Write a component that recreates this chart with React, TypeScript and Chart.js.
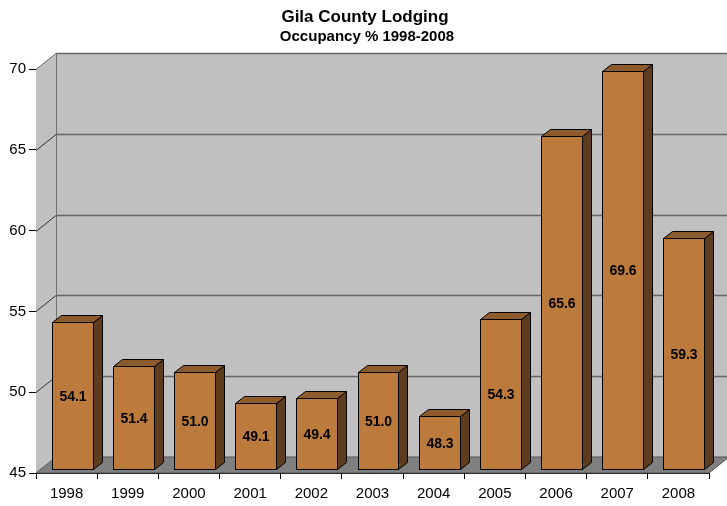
import React, { useEffect, useRef } from "react";
import { Chart, registerables } from "chart.js";

Chart.register(...registerables);

const categories = ["1998", "1999", "2000", "2001", "2002", "2003", "2004", "2005", "2006", "2007", "2008"];
const occupancy = [54.1, 51.4, 51.0, 49.1, 49.4, 51.0, 48.3, 54.3, 65.6, 69.6, 59.3];
const titleText = "Gila County Lodging";
const subtitleText = "Occupancy % 1998-2008";
const yMin = 45;
const yMax = 70;
const yStep = 5;

const FONT = "'Liberation Sans', Arial, Helvetica, sans-serif";
const DEPTH_X = 20;
const DEPTH_Y = -16;
const FRONT_OFF_X = 5.5;
const FRONT_OFF_Y = -4;
const BAR_DX = 9;
const BAR_DY = -7;

const wallPlugin = {
  id: "wall3d",
  beforeDatasetsDraw(chart: any) {
    const { ctx, chartArea } = chart;
    const { left: L, right: R, top: T, bottom: B } = chartArea;
    const ys = chart.scales.y;
    ctx.save();
    ctx.fillStyle = "#c0c0c0";
    ctx.fillRect(L + DEPTH_X, T + DEPTH_Y, R - L, B - T);
    ctx.beginPath();
    ctx.moveTo(L, T);
    ctx.lineTo(L + DEPTH_X, T + DEPTH_Y);
    ctx.lineTo(L + DEPTH_X, B + DEPTH_Y);
    ctx.lineTo(L, B);
    ctx.closePath();
    ctx.fill();
    ctx.fillStyle = "#808080";
    ctx.beginPath();
    ctx.moveTo(L, B);
    ctx.lineTo(L + DEPTH_X, B + DEPTH_Y);
    ctx.lineTo(R + DEPTH_X, B + DEPTH_Y);
    ctx.lineTo(R, B);
    ctx.closePath();
    ctx.fill();
    ctx.strokeStyle = "#555555";
    ctx.lineWidth = 1;
    ctx.stroke();
    ctx.strokeStyle = "#707070";
    ctx.beginPath();
    ctx.moveTo(L + DEPTH_X + 0.5, T + DEPTH_Y);
    ctx.lineTo(L + DEPTH_X + 0.5, B + DEPTH_Y);
    ctx.stroke();
    for (let v = yMin + yStep; v <= yMax; v += yStep) {
      const y = Math.round(ys.getPixelForValue(v)) + 0.5;
      ctx.strokeStyle = v === yMax ? "#707070" : "#333333";
      ctx.lineWidth = 1;
      ctx.beginPath();
      ctx.moveTo(L, y);
      ctx.lineTo(L + DEPTH_X, y + DEPTH_Y);
      ctx.stroke();
      ctx.strokeStyle = "#666666";
      ctx.lineWidth = 1.5;
      ctx.beginPath();
      ctx.moveTo(L + DEPTH_X, y + DEPTH_Y);
      ctx.lineTo(R + DEPTH_X + 10, y + DEPTH_Y);
      ctx.stroke();
    }
    ctx.restore();
  },
  afterDatasetsDraw(chart: any) {
    const { ctx, chartArea } = chart;
    const meta = chart.getDatasetMeta(0);
    ctx.save();
    ctx.lineWidth = 1;
    ctx.strokeStyle = "#000000";
    ctx.lineJoin = "miter";
    meta.data.forEach((bar: any, i: number) => {
      const w = bar.width;
      const x0 = Math.round(bar.x - w / 2 + FRONT_OFF_X) + 0.5;
      const x1 = Math.round(bar.x + w / 2 + FRONT_OFF_X) + 0.5;
      const yT = Math.round(bar.y + FRONT_OFF_Y) + 0.5;
      const yB = Math.round(Math.min(bar.base, chartArea.bottom) + FRONT_OFF_Y) + 0.5;
      ctx.fillStyle = "#5e3c1e";
      ctx.beginPath();
      ctx.moveTo(x1, yT);
      ctx.lineTo(x1 + BAR_DX, yT + BAR_DY);
      ctx.lineTo(x1 + BAR_DX, yB + BAR_DY);
      ctx.lineTo(x1, yB);
      ctx.closePath();
      ctx.fill();
      ctx.stroke();
      ctx.fillStyle = "#8e5b2c";
      ctx.beginPath();
      ctx.moveTo(x0, yT);
      ctx.lineTo(x0 + BAR_DX, yT + BAR_DY);
      ctx.lineTo(x1 + BAR_DX, yT + BAR_DY);
      ctx.lineTo(x1, yT);
      ctx.closePath();
      ctx.fill();
      ctx.stroke();
      ctx.fillStyle = "#bc7a3c";
      ctx.fillRect(x0, yT, x1 - x0, yB - yT);
      ctx.strokeRect(x0, yT, x1 - x0, yB - yT);
      ctx.fillStyle = "#000000";
      ctx.font = `bold 14px ${FONT}`;
      ctx.textAlign = "center";
      ctx.textBaseline = "middle";
      ctx.fillText(occupancy[i].toFixed(1), (x0 + x1) / 2, (yT + yB) / 2 + 1);
    });
    ctx.fillStyle = "#000000";
    ctx.textAlign = "center";
    ctx.textBaseline = "middle";
    ctx.font = `bold 17px ${FONT}`;
    ctx.fillText(titleText, 365, 17);
    ctx.font = `bold 15px ${FONT}`;
    ctx.fillText(subtitleText, 367, 37);
    ctx.restore();
  },
};

export default function App() {
  const ref = useRef<HTMLCanvasElement | null>(null);
  useEffect(() => {
    document.body.style.margin = "0";
    const canvas = ref.current;
    if (!canvas) return;
    const chart = new Chart(canvas, {
      type: "bar",
      data: {
        labels: categories,
        datasets: [
          {
            data: occupancy,
            base: yMin,
            backgroundColor: "rgba(0,0,0,0)",
            borderWidth: 0,
            categoryPercentage: 1,
            barPercentage: 0.67,
          },
        ],
      },
      options: {
        animation: false,
        responsive: false,
        devicePixelRatio: 1,
        layout: { padding: { top: 69, right: 18, left: 0, bottom: 0 } },
        plugins: { legend: { display: false }, tooltip: { enabled: false }, title: { display: false } },
        scales: {
          x: {
            afterFit(scale: any) {
              scale.height = 33;
            },
            grid: { drawOnChartArea: false, drawTicks: true, tickLength: 6, color: "#000000", offset: true },
            border: { display: true, color: "#000000", width: 1 },
            ticks: { color: "#000000", font: { family: FONT, size: 15 }, padding: 6, maxRotation: 0 },
          },
          y: {
            min: yMin,
            max: yMax,
            afterFit(scale: any) {
              scale.width = 36;
            },
            grid: { drawOnChartArea: false, drawTicks: true, tickLength: 7, color: "#000000" },
            border: { display: true, color: "#000000", width: 1 },
            ticks: { stepSize: yStep, color: "#000000", font: { family: FONT, size: 15 }, padding: 3 },
          },
        },
      },
      plugins: [wallPlugin],
    });
    return () => chart.destroy();
  }, []);
  return (
    <div style={{ width: 727, height: 506 }}>
      <canvas ref={ref} width={727} height={506} />
    </div>
  );
}
